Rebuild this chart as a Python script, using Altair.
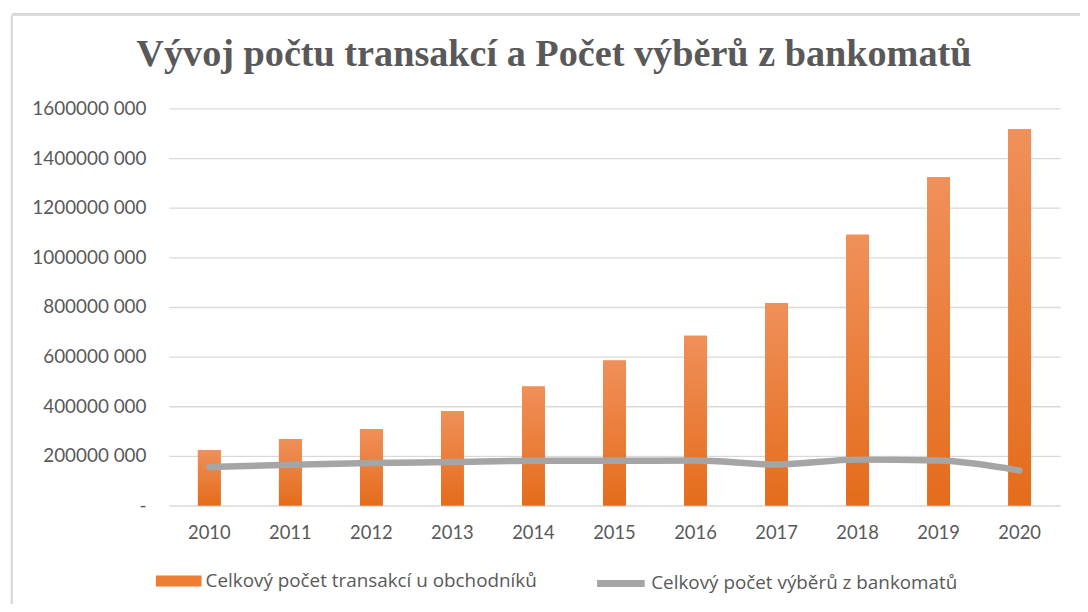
import altair as alt
import pandas as pd

years = ["2010", "2011", "2012", "2013", "2014", "2015", "2016", "2017", "2018", "2019", "2020"]
transakce = [224e6, 268e6, 308e6, 380e6, 480e6, 584e6, 684e6, 816e6, 1091e6, 1323e6, 1516e6]
vybery = [155e6, 164e6, 171e6, 175e6, 180e6, 180e6, 181e6, 165e6, 185e6, 181e6, 141e6]
y_ticks = [0, 200e6, 400e6, 600e6, 800e6, 1000e6, 1200e6, 1400e6, 1600e6]

s_bar = "Celkový počet transakcí u obchodníků"
s_line = "Celkový počet výběrů z bankomatů"
title = "Vývoj počtu transakcí a Počet výběrů z bankomatů"

df = pd.DataFrame({"rok": years, "transakce": transakce, "vybery": vybery,
                   "s_bar": [s_bar] * len(years), "s_line": [s_line] * len(years)})

FONT = "Lato"
LFONT = "Open Sans"
GRAY = "#595959"

x = alt.X("rok:N", sort=years, title=None,
          scale=alt.Scale(paddingInner=0, paddingOuter=0),
          axis=alt.Axis(labelAngle=0, labelFontSize=18.5, labelColor=GRAY, labelFont=FONT,
                        ticks=False, domain=False, labelPadding=18, grid=False))
y_axis = alt.Axis(values=y_ticks, labelFontSize=19, labelColor=GRAY, labelFont=FONT,
                  ticks=False, domain=False, labelPadding=23, grid=True,
                  gridColor="#d9d9d9", gridWidth=1.3,
                  labelExpr="datum.value == 0 ? '-' : format(floor(datum.value/1000), 'd') + ' 000'")
y_scale = alt.Scale(domain=[0, 1600e6], nice=False)

base = alt.Chart(df)

bars_legend = base.mark_bar(size=23).encode(
    x=x,
    y=alt.Y("transakce:Q", title=None, scale=y_scale, axis=y_axis),
    fill=alt.Fill("s_bar:N", scale=alt.Scale(domain=[s_bar], range=["#ED7D31"]),
                  legend=alt.Legend(title=None, orient="none", legendX=-13, legendY=453,
                                    symbolType="M-1,-0.24H1V0.24H-1Z", symbolSize=2116,
                                    symbolStrokeWidth=0, labelFont=LFONT, labelFontSize=19,
                                    labelColor=GRAY, labelOffset=4, padding=0, labelLimit=0)),
)

grad = alt.Gradient(gradient="linear", x1=0, x2=0, y1=0, y2=1,
                    stops=[alt.GradientStop(offset=0, color="#F0905A"),
                           alt.GradientStop(offset=1, color="#E46C1B")])
bars = base.mark_bar(size=23, color=grad).encode(
    x=x,
    y=alt.Y("transakce:Q", scale=y_scale),
)

line = base.mark_line(strokeWidth=6.5, strokeCap="round", strokeJoin="round",
                      interpolate="monotone").encode(
    x=x,
    y=alt.Y("vybery:Q", scale=y_scale),
    stroke=alt.Stroke("s_line:N", scale=alt.Scale(domain=[s_line], range=["#A5A5A5"]),
                      legend=alt.Legend(title=None, orient="none", legendX=428, legendY=451,
                                        symbolType="stroke", symbolSize=2304,
                                        symbolStrokeWidth=7, labelFont=LFONT, labelFontSize=19,
                                        labelColor=GRAY, labelOffset=3, padding=0, labelLimit=0)),
)

frame_left = alt.Chart(df).mark_rule(color="#d9d9d9", strokeWidth=2).encode(
    x=alt.value(-158), y=alt.value(-94), y2=alt.value(520))
frame_top = alt.Chart(df).mark_rule(color="#d9d9d9", strokeWidth=2).encode(
    x=alt.value(-158), x2=alt.value(930), y=alt.value(-95))

chart = alt.layer(bars_legend, bars, line, frame_left, frame_top).properties(
    width=898, height=400,
    autosize=alt.AutoSizeParams(type="none"),
    padding={"left": 162, "top": 99, "right": 20, "bottom": 97},
    title=alt.TitleParams(title, font="Liberation Serif", fontSize=38.5, fontWeight="bold",
                          color=GRAY, anchor="middle", dx=-61, offset=-62),
).resolve_scale(fill="independent", stroke="independent").configure_view(stroke=None)

chart.save("out.html", embed_options={"renderer": "svg", "actions": False})
